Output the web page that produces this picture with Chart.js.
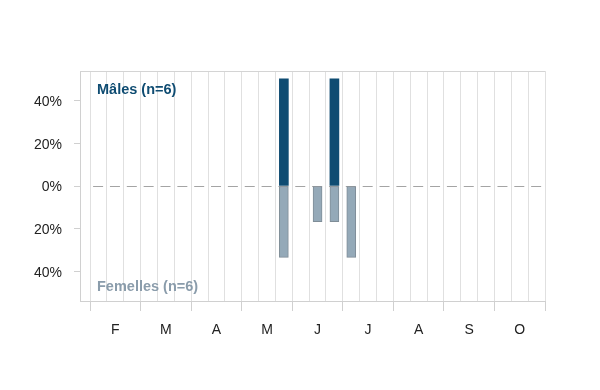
<!DOCTYPE html>
<html>
<head>
<meta charset="utf-8">
<script src="https://cdn.jsdelivr.net/npm/chart.js@4.4.1/dist/chart.umd.min.js"></script>
<style>
  html, body { margin: 0; padding: 0; background: #fff; }
  #wrap { width: 600px; height: 390px; position: relative; }
</style>
</head>
<body>
<div id="wrap"><canvas id="chart" width="600" height="390"></canvas></div>
<script>
// ---------------------------------------------------------------------------
// Data: share of individuals per ten-day period (décade), Feb -> Oct
// ---------------------------------------------------------------------------

const months = ['F', 'M', 'A', 'M', 'J', 'J', 'A', 'S', 'O'];

// 27 décades (3 per month), percentages
const malesPct = [
  0, 0, 0,   0, 0, 0,   0, 0, 0,   0, 0, 50,
  0, 0, 50,  0, 0, 0,   0, 0, 0,   0, 0, 0,   0, 0, 0,
];
const femalesPct = [
  0, 0, 0,   0, 0, 0,   0, 0, 0,   0, 0, 33.3,
  0, 16.7, 16.7,  33.3, 0, 0,   0, 0, 0,   0, 0, 0,   0, 0, 0,
];

const yTicks = [-40, -20, 0, 20, 40];
const malesLabel = 'Mâles (n=6)';
const femalesLabel = 'Femelles (n=6)';

// ---------------------------------------------------------------------------
// Build chart data
// ---------------------------------------------------------------------------

const maleData = malesPct.map((v, i) => ({ x: i + 0.5, y: v || null }));
const femaleData = femalesPct.map((v, i) => ({ x: i + 0.5, y: v ? -v : null }));

const xTickValues = [];
for (let i = 0; i <= months.length * 3; i++) xTickValues.push(i);
months.forEach((m, i) => xTickValues.push(i * 3 + 1.5));
xTickValues.sort((a, b) => a - b);

const FONT = '"Liberation Sans", Arial, sans-serif';

// Extra decorations: frame top, dashed zero line, panel labels
const decorations = {
  id: 'decorations',
  beforeDatasetsDraw(chart) {
    const { ctx, chartArea, scales } = chart;
    const y0 = scales.y.getPixelForValue(0);
    ctx.save();
    ctx.strokeStyle = '#d4d4d4';
    ctx.lineWidth = 1;
    ctx.beginPath();
    ctx.moveTo(chartArea.left, chartArea.top + 0.5);
    ctx.lineTo(chartArea.right, chartArea.top + 0.5);
    ctx.stroke();

    // dashed zero line, dash period follows the décade spacing
    const step = scales.x.getPixelForValue(1) - scales.x.getPixelForValue(0);
    ctx.strokeStyle = '#a4a4a4';
    ctx.setLineDash([10, step - 10]);
    ctx.beginPath();
    ctx.moveTo(scales.x.getPixelForValue(0) + 3, Math.round(y0) + 0.5);
    ctx.lineTo(chartArea.right - 1, Math.round(y0) + 0.5);
    ctx.stroke();
    ctx.restore();
  },
  afterDraw(chart) {
    const { ctx, chartArea } = chart;
    ctx.save();
    ctx.font = 'bold 14.5px ' + FONT;
    ctx.textBaseline = 'middle';
    ctx.fillStyle = '#0f4c72';
    ctx.fillText(malesLabel, chartArea.left + 17, chartArea.top + 19);
    ctx.fillStyle = '#8a9cab';
    ctx.fillText(femalesLabel, chartArea.left + 17, chartArea.bottom - 14);
    ctx.restore();
  },
};

new Chart(document.getElementById('chart'), {
  type: 'bar',
  data: {
    datasets: [
      {
        label: 'Femelles',
        data: femaleData,
        backgroundColor: '#94a9b8',
        borderColor: '#7f8d97',
        borderWidth: 1,
        borderSkipped: false,
        barThickness: 9,
        grouped: false,
      },
      {
        label: 'Mâles',
        data: maleData,
        backgroundColor: '#0f4c72',
        borderWidth: 0,
        barThickness: 9,
        grouped: false,
      },
    ],
  },
  options: {
    responsive: false,
    animation: false,
    layout: { padding: { top: 71, right: 55, left: 0, bottom: 0 } },
    plugins: {
      legend: { display: false },
      tooltip: { enabled: false },
    },
    scales: {
      x: {
        type: 'linear',
        offset: false,
        min: -0.6,
        max: 27,
        afterBuildTicks: scale => {
          scale.ticks = xTickValues.map(v => ({ value: v }));
        },
        afterFit: scale => { scale.height = 89; },
        border: { color: '#d0d0d0' },
        grid: {
          offset: false,
          color: ctx => (ctx.tick && Number.isInteger(ctx.tick.value) ? '#e0e0e0' : 'rgba(0,0,0,0)'),
          tickColor: ctx => (ctx.tick && ctx.tick.value % 3 === 0 ? '#d0d0d0' : 'rgba(0,0,0,0)'),
          tickLength: 10,
        },
        ticks: {
          autoSkip: false,
          maxRotation: 0,
          padding: 11,
          color: '#222',
          font: { family: FONT, size: 14 },
          callback: v => (Number.isInteger(v) ? '' : months[(v - 1.5) / 3]),
        },
      },
      y: {
        min: -53.7,
        max: 53.7,
        afterBuildTicks: scale => {
          scale.ticks = yTicks.map(v => ({ value: v }));
        },
        afterFit: scale => { scale.width = 80; },
        border: { color: '#d0d0d0' },
        grid: {
          drawOnChartArea: false,
          tickLength: 6,
          tickColor: '#d0d0d0',
        },
        ticks: {
          padding: 12,
          labelOffset: 1.5,
          color: '#222',
          font: { family: FONT, size: 14 },
          callback: v => Math.abs(v) + '%',
        },
      },
    },
  },
  plugins: [decorations],
});
</script>
</body>
</html>
